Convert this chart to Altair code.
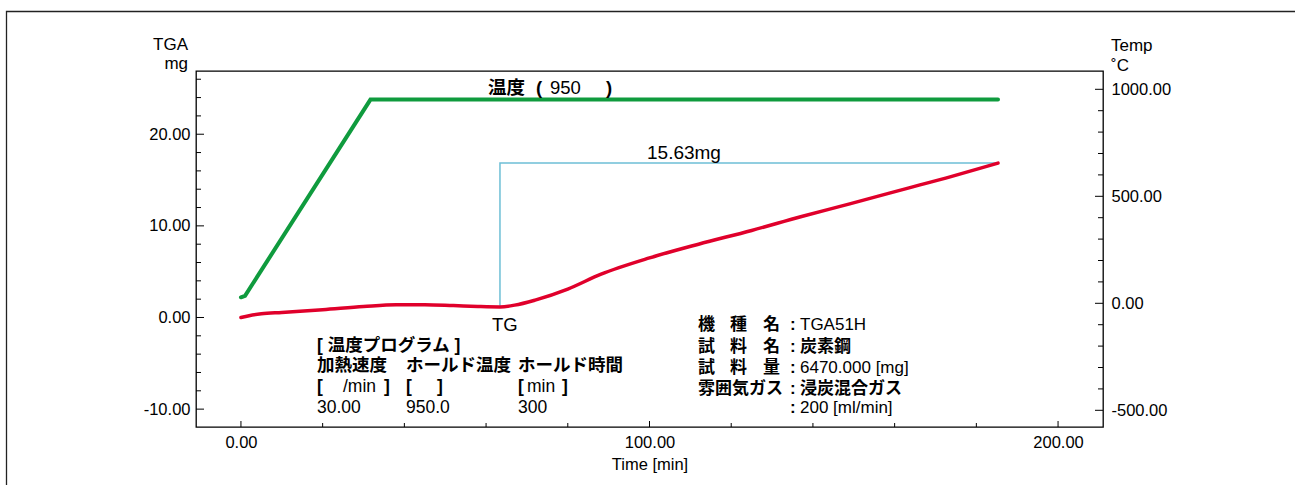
import altair as alt
import pandas as pd

# ---------------- data ----------------
tg_time = [0, 2, 5, 10, 20, 30, 38, 45, 52, 58, 63.4, 67, 72, 80, 88, 100, 112, 125, 137, 149, 161, 174, 185.3]
tg_mass = [0.0, 0.2, 0.4, 0.55, 0.85, 1.2, 1.4, 1.4, 1.3, 1.2, 1.15, 1.35, 1.9, 3.1, 4.7, 6.5, 8.0, 9.5, 11.0, 12.4, 13.85, 15.4, 16.85]

temp_time = [0, 1.0, 31.7, 185.3]
temp_val = [28, 35, 952, 952]

step_time = [63.4, 63.4, 185.3]
step_mass = [1.22, 16.85, 16.85]

mg_ticks = [-10, 0, 10, 20]
mg_minor = [-8, -6, -4, -2, 2, 4, 6, 8, 12, 14, 16, 18, 22, 24, 26]
temp_ticks = [-500, 0, 500, 1000]
temp_minor = [-400, -300, -200, -100, 100, 200, 300, 400, 600, 700, 800, 900]
time_ticks = [0, 100, 200]
time_minor = [20, 40, 60, 80, 120, 140, 160, 180]

# ---------------- layout ----------------
W, H = 907, 356
OX, OY = 196, 71
FONT = "Liberation Sans, Noto Sans CJK JP"

t_scale = alt.Scale(domain=[-11, 211], nice=False, zero=False)
mg_scale = alt.Scale(domain=[-11.95, 26.9], nice=False, zero=False)
temp_scale = alt.Scale(domain=[-578, 1085.5], nice=False, zero=False)

LABEL_EXPR = "(datum.value < 0 ? '-' : '') + format(abs(datum.value), '.2f')"
common_axis = dict(ticks=False, tickSize=0, grid=False, domain=False, labelFontSize=16.5,
                   labelFont=FONT, labelColor="black", labelExpr=LABEL_EXPR)
x_axis = alt.Axis(values=time_ticks, labelPadding=7, title="Time [min]", titleFontSize=16.5,
                  titleFontWeight="normal", titleFont=FONT, titleColor="black",
                  titleY=42, titleBaseline="alphabetic", **common_axis)
left_axis = alt.Axis(orient="left", values=mg_ticks, labelPadding=6, title=None, **common_axis)
right_axis = alt.Axis(orient="right", values=temp_ticks, labelPadding=8, title=None, **common_axis)

X = lambda f: alt.X(f, type="quantitative", scale=t_scale, axis=x_axis)
YM = lambda f: alt.Y(f, type="quantitative", scale=mg_scale, axis=left_axis)
YT = lambda f: alt.Y(f, type="quantitative", scale=temp_scale, axis=right_axis)

tg_df = pd.DataFrame({"t": tg_time, "m": tg_mass, "o": range(len(tg_time))})
temp_df = pd.DataFrame({"t": temp_time, "c": temp_val, "o": range(len(temp_time))})
step_df = pd.DataFrame({"t": step_time, "m": step_mass, "o": range(len(step_time))})

step_line = alt.Chart(step_df).mark_line(color="#6dbfd6", strokeWidth=1.5).encode(
    x=X("t"), y=YM("m"), order="o:Q")
tg_line = alt.Chart(tg_df).mark_line(color="#e0002b", strokeWidth=3.5, strokeCap="round",
                                     interpolate="monotone").encode(
    x=X("t"), y=YM("m"), order="o:Q")

def vals(v):
    return pd.DataFrame({"v": v})

mg_tick_major = alt.Chart(vals(mg_ticks)).mark_rule(color="black", strokeWidth=1).encode(
    y=YM("v"), x=alt.value(0), x2=alt.value(8))
mg_tick_minor = alt.Chart(vals(mg_minor)).mark_rule(color="black", strokeWidth=1).encode(
    y=YM("v"), x=alt.value(0), x2=alt.value(5))

mg_group = alt.layer(step_line, tg_line, mg_tick_major, mg_tick_minor)

temp_line = alt.Chart(temp_df).mark_line(color="#0f9b3e", strokeWidth=4, strokeCap="round").encode(
    x=X("t"), y=YT("c"), order="o:Q")
temp_tick_major = alt.Chart(vals(temp_ticks)).mark_rule(color="black", strokeWidth=1).encode(
    y=YT("v"), x=alt.value(W), x2=alt.value(W - 8))
temp_tick_minor = alt.Chart(vals(temp_minor)).mark_rule(color="black", strokeWidth=1).encode(
    y=YT("v"), x=alt.value(W), x2=alt.value(W - 5))
temp_group = alt.layer(temp_line, temp_tick_major, temp_tick_minor)

time_tick_major = alt.Chart(vals(time_ticks)).mark_rule(color="black", strokeWidth=1).encode(
    x=X("v"), y=alt.value(H), y2=alt.value(H - 6))
time_tick_minor = alt.Chart(vals(time_minor)).mark_rule(color="black", strokeWidth=1).encode(
    x=X("v"), y=alt.value(H), y2=alt.value(H - 4))

frame = alt.Chart(pd.DataFrame({"a": [0]})).mark_rect(
    filled=False, stroke="#222222", strokeWidth=1.3).encode(
    x=alt.value(6.5 - OX), x2=alt.value(1500), y=alt.value(11.5 - OY), y2=alt.value(700))


def txt(s, x, y, size=17.5, bold=False, align="left", baseline="middle"):
    return alt.Chart(pd.DataFrame({"s": [s]})).mark_text(
        align=align, baseline=baseline, fontSize=size, font=FONT,
        fontWeight="bold" if bold else "normal", color="black").encode(
        x=alt.value(x - OX), y=alt.value(y - OY), text="s:N")


texts = [
    txt("TGA", 188, 50, 17, align="right", baseline="alphabetic"),
    txt("mg", 188, 69, 17, align="right", baseline="alphabetic"),
    txt("Temp", 1111, 51, 17, baseline="alphabetic"),
    txt("˚C", 1111, 71, 17, baseline="alphabetic"),
    # title on the plateau
    txt("温度", 488, 88, 18.5, bold=True),
    txt("(", 536, 88, 18.5, bold=True),
    txt("950", 550, 88, 18.5),
    txt(")", 606, 88, 18.5, bold=True),
    txt("15.63mg", 647, 153, 19),
    txt("TG", 492, 325, 18.5),
    # temperature program block
    txt("[ 温度プログラム ]", 317, 346, bold=True),
    txt("加熱速度", 317, 366, bold=True),
    txt("ホールド温度", 406, 366, bold=True),
    txt("ホールド時間", 518, 366, bold=True),
    txt("[", 317, 387, bold=True),
    txt("/min", 343, 387),
    txt("]", 384, 387, bold=True),
    txt("[", 406, 387, bold=True),
    txt("]", 437, 387, bold=True),
    txt("[", 518, 387, bold=True),
    txt("min", 527, 387),
    txt("]", 562, 387, bold=True),
    txt("30.00", 317, 408),
    txt("950.0", 406, 408),
    txt("300", 518, 408),
    # instrument block
    txt("機", 698, 325, 17, bold=True), txt("種", 730, 325, 17, bold=True), txt("名", 763, 325, 17, bold=True),
    txt("試", 698, 347, 17, bold=True), txt("料", 730, 347, 17, bold=True), txt("名", 763, 347, 17, bold=True),
    txt("試", 698, 368, 17, bold=True), txt("料", 730, 368, 17, bold=True), txt("量", 763, 368, 17, bold=True),
    txt("雰囲気ガス", 698, 389, 17, bold=True),
    txt(":", 790, 325, 17, bold=True),
    txt(":", 790, 347, 17, bold=True),
    txt(":", 790, 368, 17, bold=True),
    txt(":", 790, 389, 17, bold=True),
    txt(":", 790, 408, 17, bold=True),
    txt("TGA51H", 800, 325, 17),
    txt("炭素鋼", 800, 347, 17, bold=True),
    txt("6470.000 [mg]", 800, 368, 17),
    txt("浸炭混合ガス", 800, 389, 17, bold=True),
    txt("200 [ml/min]", 800, 408, 17),
]

chart = alt.layer(
    frame, mg_group, temp_group, time_tick_major, time_tick_minor, *texts
).resolve_scale(y="independent").properties(
    width=W, height=H,
    autosize=alt.AutoSizeParams(type="none"),
    padding={"left": OX, "top": OY, "right": 1295 - OX - W, "bottom": 485 - OY - H},
    background="white",
).configure_view(stroke="black", strokeWidth=1.3)

chart.save("out.html", embed_options={"renderer": "svg", "actions": False})
